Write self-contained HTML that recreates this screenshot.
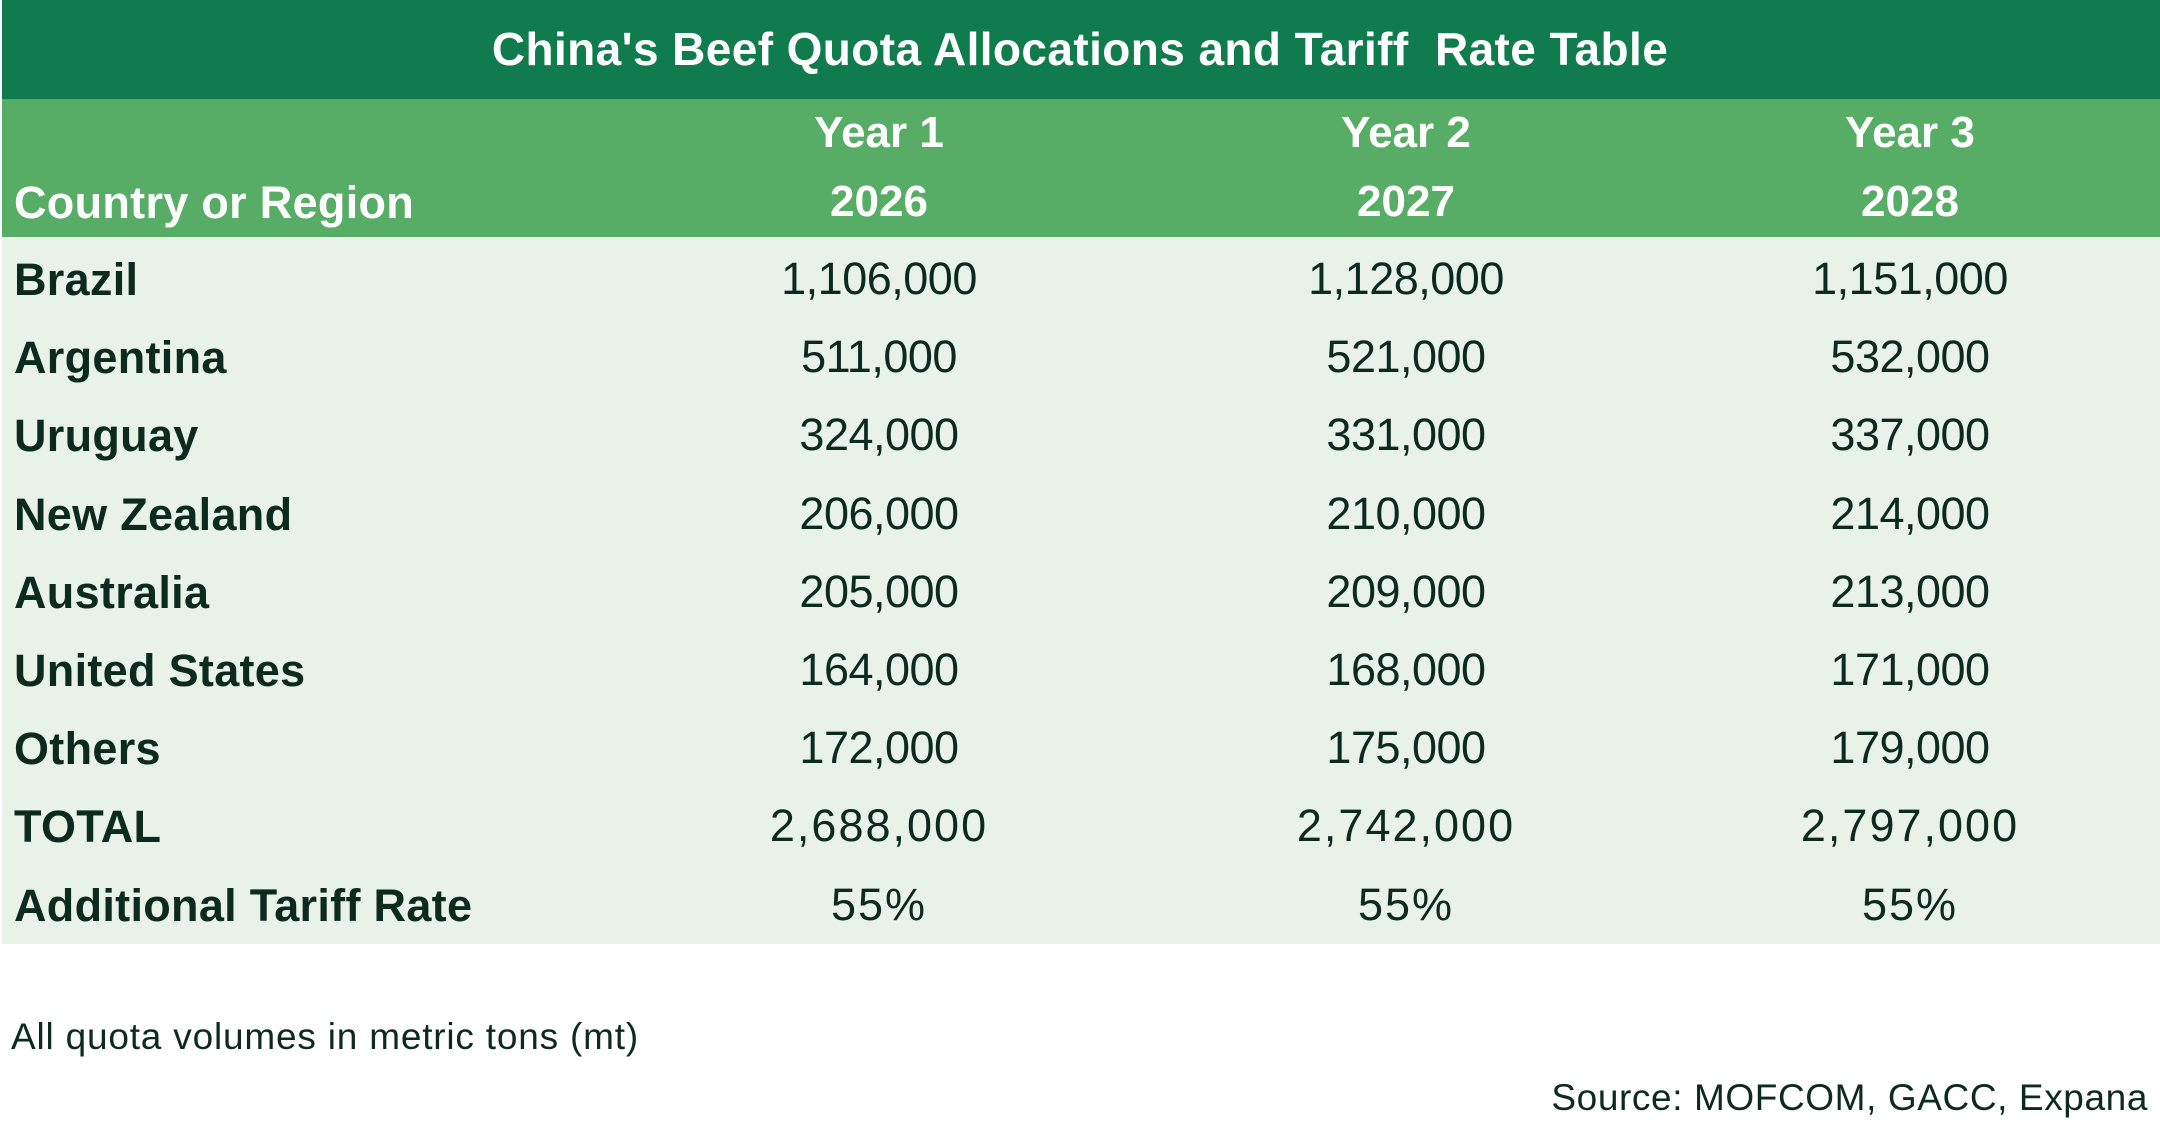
<!DOCTYPE html>
<html><head><meta charset="utf-8"><style>
body{margin:0;width:2160px;height:1125px;background:#fff;position:relative;font-family:"Liberation Sans",sans-serif;color:#0d2a1f;overflow:hidden}
.b{position:absolute}
.t{position:absolute;white-space:nowrap;line-height:1}
.c{transform:translateX(-50%)}
.hd{color:#fff;font-weight:bold;font-size:44px;letter-spacing:0}
.lab{font-weight:bold;font-size:45px;left:14px;letter-spacing:0.3px}
.num{font-size:45px;letter-spacing:-0.5px}
</style></head><body>
<div class="b" style="left:2px;top:0;width:2158px;height:99px;background:#107c4d"></div>
<div class="b" style="left:2px;top:99px;width:2158px;height:138px;background:#57ad65"></div>
<div class="b" style="left:2px;top:237px;width:2158px;height:707px;background:#e8f2e9"></div>
<div class="t hd c" style="left:1080px;top:26px;font-size:46px;letter-spacing:0.4px">China's Beef Quota Allocations and Tariff&nbsp; Rate Table</div>
<div class="t hd c" style="left:879px;top:111px">Year 1</div>
<div class="t hd c" style="left:1406px;top:111px">Year 2</div>
<div class="t hd c" style="left:1910px;top:111px">Year 3</div>
<div class="t hd c" style="left:879px;top:180px">2026</div>
<div class="t hd c" style="left:1406px;top:180px">2027</div>
<div class="t hd c" style="left:1910px;top:180px">2028</div>
<div class="t hd" style="left:14px;top:180px;font-size:45px;letter-spacing:0.3px">Country or Region</div>
<div id="rows"></div>
<div class="t" style="left:11px;top:1018px;font-size:37px;letter-spacing:0.8px">All quota volumes in metric tons (mt)</div>
<div class="t" style="right:12px;top:1079px;font-size:37px;letter-spacing:0.6px">Source: MOFCOM, GACC, Expana</div>
<script>
var d=[["Brazil","1,106,000","1,128,000","1,151,000"],["Argentina","511,000","521,000","532,000"],["Uruguay","324,000","331,000","337,000"],["New Zealand","206,000","210,000","214,000"],["Australia","205,000","209,000","213,000"],["United States","164,000","168,000","171,000"],["Others","172,000","175,000","179,000"],["TOTAL","2,688,000","2,742,000","2,797,000"],["Additional Tariff Rate","55%","55%","55%"]];
var h="",xs=[879,1406,1910];
d.forEach(function(r,i){var y=257+i*78.2;
h+='<div class="t lab" style="top:'+y+'px">'+r[0]+'</div>';
var st=i>=7?'letter-spacing:2px;':'';
for(var j=1;j<4;j++)h+='<div class="t num c" style="'+st+'left:'+xs[j-1]+'px;top:'+(y-1)+'px">'+r[j]+'</div>';});
document.getElementById("rows").innerHTML=h;
</script>
</body></html>
